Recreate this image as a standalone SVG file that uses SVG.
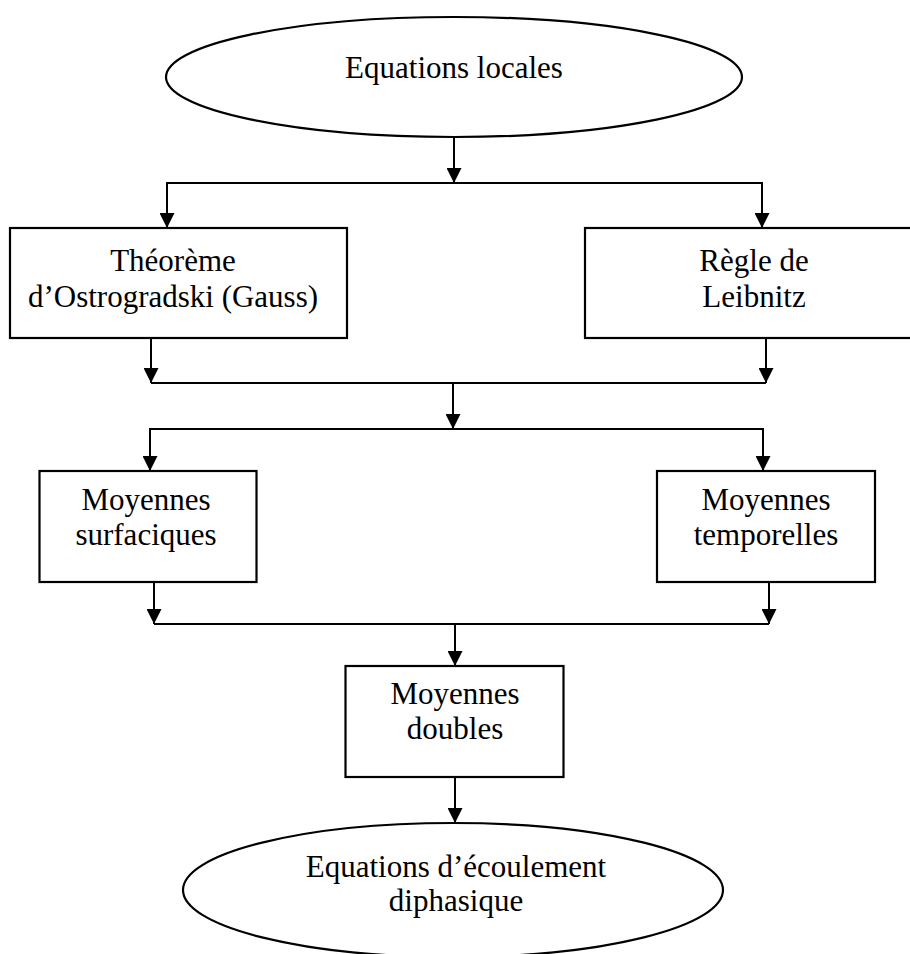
<svg xmlns="http://www.w3.org/2000/svg" width="910" height="954" viewBox="0 0 910 954">
<style>
  .shape { fill: #ffffff; stroke: #000000; stroke-width: 2.2; }
  .conn { fill: none; stroke: #000000; stroke-width: 2; }
  .lbl { font-family: "Liberation Serif", "Times New Roman", serif; font-size: 31px; fill: #000000; text-anchor: middle; }
</style>
<defs>
  <marker id="arr" markerUnits="userSpaceOnUse" markerWidth="15" markerHeight="15" refX="15" refY="7.5" orient="auto">
    <path d="M0,0 L15,7.5 L0,15 z" fill="#000000"/>
  </marker>
</defs>
<rect width="910" height="954" fill="#ffffff"/>

<g id="connectors">
  <path class="conn" d="M454,137 V183" marker-end="url(#arr)"/>
  <path class="conn" d="M454,183 H167 V228" marker-end="url(#arr)"/>
  <path class="conn" d="M454,183 H762 V228" marker-end="url(#arr)"/>
  <path class="conn" d="M151,339 V383" marker-end="url(#arr)"/>
  <path class="conn" d="M766,339 V383" marker-end="url(#arr)"/>
  <path class="conn" d="M151,383 H766"/>
  <path class="conn" d="M453,383 V429" marker-end="url(#arr)"/>
  <path class="conn" d="M453,429 H150 V471" marker-end="url(#arr)"/>
  <path class="conn" d="M453,429 H763 V471" marker-end="url(#arr)"/>
  <path class="conn" d="M154,582 V624" marker-end="url(#arr)"/>
  <path class="conn" d="M769,582 V624" marker-end="url(#arr)"/>
  <path class="conn" d="M154,624 H769"/>
  <path class="conn" d="M455,624 V666" marker-end="url(#arr)"/>
  <path class="conn" d="M455,777 V823" marker-end="url(#arr)"/>
</g>

<g id="equations-locales">
  <ellipse class="shape" cx="454" cy="77" rx="288" ry="60"/>
  <text class="lbl" x="454" y="78">Equations locales</text>
</g>

<g id="theoreme-ostrogradski">
  <rect class="shape" x="10" y="228" width="337" height="110"/>
  <text class="lbl" x="173" y="271">Théorème</text>
  <text class="lbl" x="173" y="307">d’Ostrogradski (Gauss)</text>
</g>

<g id="regle-leibnitz">
  <rect class="shape" x="585" y="228" width="340" height="110"/>
  <text class="lbl" x="754" y="271">Règle de</text>
  <text class="lbl" x="754" y="307">Leibnitz</text>
</g>

<g id="moyennes-surfaciques">
  <rect class="shape" x="39.5" y="471" width="217" height="111"/>
  <text class="lbl" x="146" y="510">Moyennes</text>
  <text class="lbl" x="146" y="545">surfaciques</text>
</g>

<g id="moyennes-temporelles">
  <rect class="shape" x="657" y="471" width="218" height="111"/>
  <text class="lbl" x="766" y="510">Moyennes</text>
  <text class="lbl" x="766" y="545">temporelles</text>
</g>

<g id="moyennes-doubles">
  <rect class="shape" x="345.5" y="666" width="218" height="111"/>
  <text class="lbl" x="455" y="704">Moyennes</text>
  <text class="lbl" x="455" y="739">doubles</text>
</g>

<g id="equations-ecoulement">
  <ellipse class="shape" cx="453" cy="890" rx="270" ry="67"/>
  <text class="lbl" x="456" y="877">Equations d’écoulement</text>
  <text class="lbl" x="456" y="911">diphasique</text>
</g>
</svg>
